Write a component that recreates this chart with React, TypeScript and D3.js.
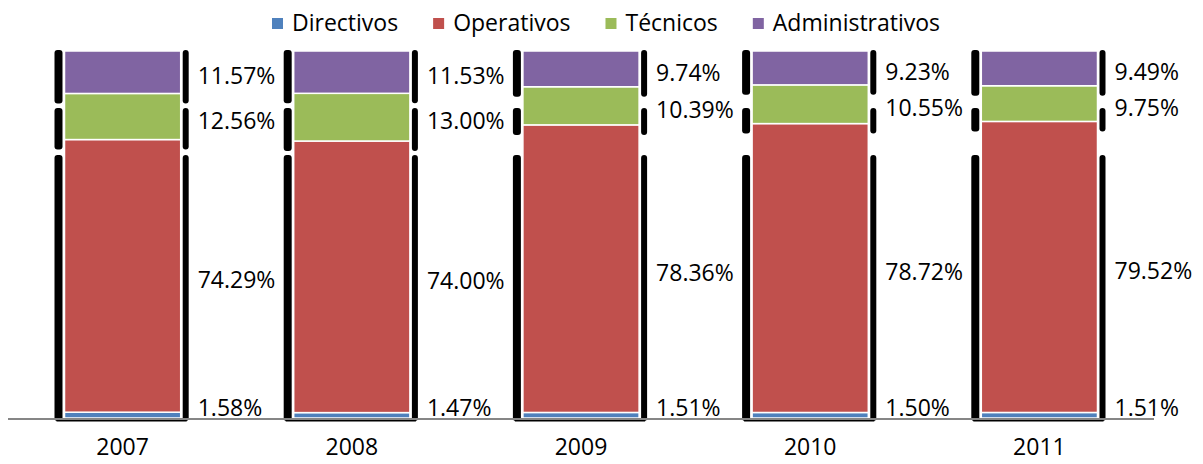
import React, { useEffect, useRef } from "react";
import * as d3 from "d3";

const years = ["2007", "2008", "2009", "2010", "2011"];
const seriesNames = ["Directivos", "Operativos", "Técnicos", "Administrativos"];
const directivos = [1.58, 1.47, 1.51, 1.5, 1.51];
const operativos = [74.29, 74.0, 78.36, 78.72, 79.52];
const tecnicos = [12.56, 13.0, 10.39, 10.55, 9.75];
const administrativos = [11.57, 11.53, 9.74, 9.23, 9.49];
const colors = ["#4F81BD", "#C0504D", "#9BBB59", "#8064A2"];

const W = 1203;
const H = 464;
const FONT = "'Open Sans', 'Noto Sans', sans-serif";

export default function App() {
  const ref = useRef<SVGSVGElement>(null);
  useEffect(() => {
    document.body.style.margin = "0";
    const svg = d3.select(ref.current);
    svg.selectAll("*").remove();

    const rows = years.map((y, i) => ({
      year: y,
      Directivos: directivos[i],
      Operativos: operativos[i],
      Técnicos: tecnicos[i],
      Administrativos: administrativos[i],
    }));
    const stack = d3.stack<any>().keys(seriesNames).offset(d3.stackOffsetExpand);
    const series = stack(rows);

    const x = d3.scaleBand().domain(years).range([8, 1154]).paddingInner(0.493).paddingOuter(0.2465);
    const y = d3.scaleLinear().domain([0, 1]).range([418, 51]);
    const bw = x.bandwidth();

    // black bracket decorations
    const deco = svg.append("g");
    years.forEach((yr, i) => {
      const x0 = x(yr)!;
      const x1 = x0 + bw;
      const bAdmin = y(series[3][i][0]);
      const bTec = y(series[2][i][0]);
      const pieces: [number, number][] = [
        [y(1) - 1, bAdmin + 10],
        [y(1) + 57, bTec + 10],
        [y(1) + 104, y(0) + 3],
      ];
      pieces.forEach(([a, b]) => {
        deco.append("rect").attr("x", x0 - 10).attr("y", a).attr("width", 8).attr("height", b - a).attr("rx", 3).attr("fill", "#000");
        deco.append("rect").attr("x", x1 + 2).attr("y", a).attr("width", 6).attr("height", b - a).attr("rx", 3).attr("fill", "#000");
      });
      deco.append("rect").attr("x", x0 - 8).attr("y", y(0) + 1.5).attr("width", bw + 14).attr("height", 2).attr("fill", "#000");
    });

    // bars
    const g = svg.append("g");
    series.forEach((s, si) => {
      g.selectAll(null)
        .data(s)
        .enter()
        .append("rect")
        .attr("x", (d: any) => x(d.data.year)!)
        .attr("y", (d) => y(d[1]))
        .attr("width", bw)
        .attr("height", (d) => y(d[0]) - y(d[1]))
        .attr("fill", colors[si])
        .attr("stroke", "#fff")
        .attr("stroke-width", 1.5);
    });

    // axis line
    svg.append("line").attr("x1", 8).attr("x2", 1154).attr("y1", 419).attr("y2", 419).attr("stroke", "#868686").attr("stroke-width", 2);

    // value labels
    const valueArrays = [directivos, operativos, tecnicos, administrativos];
    series.forEach((s, si) => {
      s.forEach((d, i) => {
        const yr = years[i];
        const ly = si === 0 ? y(d[0]) - 11 : (y(d[0]) + y(d[1])) / 2 + 3;
        svg
          .append("text")
          .attr("x", x(yr)! + bw + 17)
          .attr("y", ly)
          .attr("dominant-baseline", "central")
          .attr("font-family", FONT)
          .attr("font-size", 23)
          .attr("fill", "#000")
          .text(valueArrays[si][i].toFixed(2) + "%");
      });
    });

    // x labels
    years.forEach((yr) => {
      svg
        .append("text")
        .attr("x", x(yr)! + bw / 2)
        .attr("y", 446)
        .attr("text-anchor", "middle")
        .attr("dominant-baseline", "central")
        .attr("font-family", FONT)
        .attr("font-size", 23)
        .attr("fill", "#000")
        .text(yr);
    });

    // legend
    const lg = svg.append("g");
    let cx = 272;
    seriesNames.forEach((name, i) => {
      lg.append("rect").attr("x", cx).attr("y", 18).attr("width", 11).attr("height", 11).attr("fill", colors[i]);
      const t = lg
        .append("text")
        .attr("x", cx + 20)
        .attr("y", 22)
        .attr("dominant-baseline", "central")
        .attr("font-family", FONT)
        .attr("font-size", 23)
        .attr("fill", "#000")
        .text(name);
      const w = (t.node() as SVGTextElement).getComputedTextLength();
      cx = cx + 20 + w + 35;
    });
  }, []);
  return <svg ref={ref} width={W} height={H} style={{ display: "block", background: "#fff" }} />;
}
